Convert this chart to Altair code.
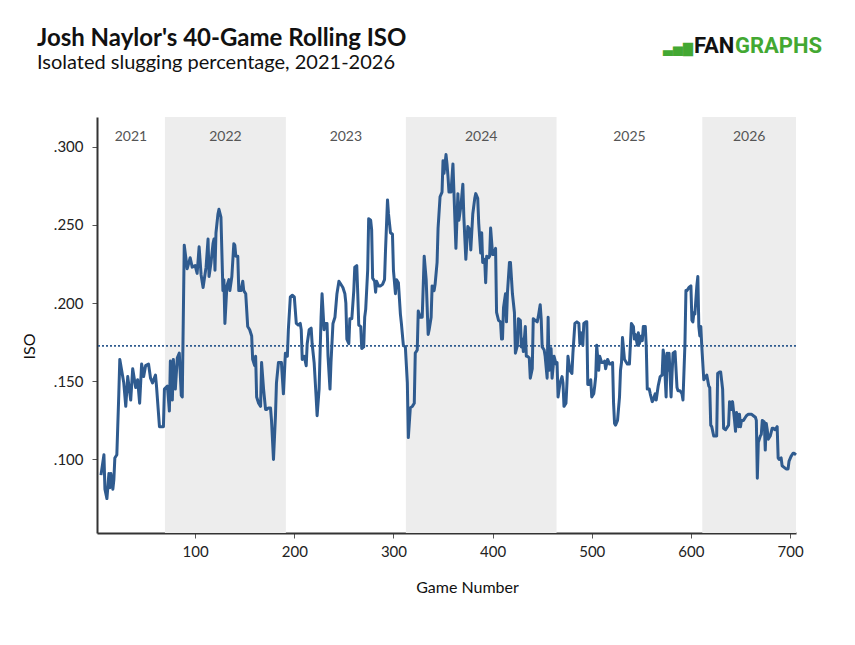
import altair as alt
import pandas as pd

# 40-game rolling ISO
games = [
    5, 8, 9, 11, 13, 14, 15, 17, 18, 19, 21, 23, 24, 28, 30, 32, 35, 37, 40, 42,
    44, 46, 48, 50, 53, 55, 57, 60, 61, 64, 68, 69, 72, 74, 75, 77, 78, 80, 82, 84,
    86, 87, 89, 92, 95, 97, 100, 102, 104, 106, 108, 111, 113, 114, 116, 118, 119, 120, 121, 123,
    124, 126, 128, 129, 130, 132, 134, 135, 137, 139, 140, 141, 143, 144, 146, 148, 149, 151, 153, 155,
    157, 158, 160, 161, 162, 164, 166, 167, 169, 171, 172, 174, 176, 177, 179, 181, 182, 184, 187, 189,
    191, 193, 194, 196, 198, 200, 202, 204, 206, 207, 208, 210, 212, 213, 215, 217, 218, 220, 222, 223,
    225, 227, 228, 230, 231, 233, 234, 236, 237, 239, 241, 243, 245, 246, 249, 251, 252, 253, 255, 256,
    258, 260, 261, 263, 264, 265, 267, 268, 270, 271, 272, 274, 275, 277, 278, 279, 281, 282, 283, 285,
    287, 289, 291, 292, 294, 295, 297, 299, 300, 302, 303, 305, 307, 308, 310, 312, 314, 315, 317, 319,
    321, 322, 324, 325, 327, 329, 331, 333, 335, 336, 338, 339, 341, 342, 344, 345, 347, 349, 350, 351,
    353, 354, 355, 356, 358, 360, 361, 363, 365, 366, 368, 370, 371, 373, 375, 377, 378, 380, 382, 383,
    385, 386, 388, 389, 390, 392, 393, 394, 396, 397, 398, 400, 401, 403, 404, 406, 408, 409, 410, 411,
    413, 414, 415, 417, 418, 420, 422, 423, 425, 426, 428, 429, 430, 431, 433, 434, 435, 437, 438, 440,
    441, 443, 445, 446, 448, 449, 450, 452, 453, 455, 456, 457, 459, 460, 462, 464, 465, 466, 468, 470,
    471, 472, 474, 475, 476, 478, 480, 481, 483, 485, 487, 488, 489, 491, 492, 494, 495, 496, 498, 499,
    500, 502, 503, 504, 505, 507, 508, 510, 512, 513, 514, 516, 518, 519, 521, 522, 523, 524, 526, 528,
    529, 530, 531, 533, 534, 536, 538, 539, 540, 542, 543, 544, 546, 547, 548, 550, 551, 552, 554, 555,
    556, 558, 559, 561, 562, 564, 565, 567, 569, 571, 572, 573, 575, 576, 577, 578, 580, 581, 582, 584,
    586, 587, 589, 591, 592, 594, 595, 596, 598, 600, 601, 602, 603, 604, 606, 607, 608, 609, 610, 611,
    613, 614, 616, 618, 619, 620, 621, 623, 624, 626, 627, 629, 630, 632, 633, 635, 636, 638, 639, 640,
    641, 642, 644, 645, 646, 648, 649, 650, 651, 653, 655, 656, 658, 660, 661, 663, 665, 666, 667, 668,
    670, 671, 672, 674, 675, 676, 677, 678, 680, 682, 683, 685, 687, 688, 689, 691, 692, 694, 696, 698,
    699, 701, 703, 704, 706,
]
iso = [
    .090, .103, .081, .075, .091, .082, .091, .081, .087, .101, .103, .142, .164, .149, .134, .153, .138, .158, .146, .151,
    .136, .161, .153, .160, .161, .152, .149, .154, .147, .121, .121, .145, .147, .131, .163, .138, .164, .145, .165, .168,
    .141, .140, .237, .222, .229, .223, .224, .219, .236, .218, .210, .223, .241, .217, .226, .238, .241, .221, .245, .257,
    .260, .255, .208, .215, .187, .211, .215, .208, .217, .238, .237, .230, .230, .208, .208, .214, .208, .206, .185, .183,
    .179, .164, .160, .166, .140, .136, .134, .162, .145, .132, .132, .133, .133, .125, .100, .128, .149, .162, .162, .142,
    .168, .166, .183, .204, .205, .204, .187, .186, .187, .183, .164, .166, .160, .174, .183, .184, .174, .162, .140, .128,
    .145, .191, .206, .183, .187, .187, .166, .145, .162, .187, .191, .206, .214, .213, .210, .206, .200, .177, .174, .190,
    .190, .208, .223, .224, .206, .186, .185, .171, .172, .191, .196, .221, .254, .253, .247, .216, .214, .207, .214, .211,
    .211, .212, .215, .234, .266, .257, .245, .244, .221, .206, .215, .213, .193, .187, .173, .172, .149, .114, .133, .134,
    .136, .168, .170, .195, .191, .191, .230, .215, .180, .183, .191, .211, .208, .212, .226, .248, .268, .271, .291, .283,
    .295, .289, .281, .271, .271, .289, .271, .235, .270, .253, .262, .276, .255, .228, .249, .247, .234, .257, .267, .270,
    .267, .251, .232, .245, .226, .228, .213, .230, .229, .230, .248, .231, .231, .235, .194, .189, .188, .177, .177, .197,
    .206, .188, .207, .226, .226, .206, .194, .168, .173, .190, .189, .172, .177, .169, .185, .166, .166, .165, .152, .158,
    .190, .189, .188, .191, .199, .190, .172, .170, .166, .152, .191, .157, .171, .152, .166, .161, .162, .140, .149, .153,
    .149, .134, .136, .149, .166, .157, .155, .168, .187, .188, .187, .174, .181, .173, .187, .188, .188, .148, .148, .151,
    .140, .142, .147, .153, .173, .157, .166, .162, .162, .163, .158, .164, .161, .161, .162, .136, .123, .122, .125, .140,
    .157, .162, .178, .164, .163, .161, .161, .174, .187, .185, .177, .180, .173, .181, .174, .179, .176, .185, .185, .172,
    .145, .145, .142, .137, .138, .142, .138, .147, .153, .154, .170, .166, .140, .168, .157, .168, .140, .155, .168, .169,
    .146, .144, .144, .142, .138, .174, .208, .208, .210, .211, .189, .188, .194, .193, .211, .217, .185, .179, .185, .172,
    .151, .152, .154, .147, .146, .122, .121, .115, .115, .115, .155, .156, .156, .145, .120, .119, .120, .122, .137, .136,
    .132, .137, .125, .118, .130, .121, .129, .121, .125, .125, .127, .128, .129, .129, .129, .128, .127, .125, .088, .111,
    .115, .116, .125, .124, .106, .123, .119, .113, .115, .120, .120, .119, .121, .101, .100, .101, .096, .095, .094, .094,
    .099, .102, .104, .104, .103,
]

seasons = ["2021", "2022", "2023", "2024", "2025", "2026"]
season_start = [1, 69.5, 191.5, 312.5, 464.5, 611.5]
season_end = [69.5, 191.5, 312.5, 464.5, 611.5, 706]
season_shaded = [False, True, False, True, False, True]

avg_iso = [0.1727]
x_ticks = [100, 200, 300, 400, 500, 600, 700]
y_ticks = [0.100, 0.150, 0.200, 0.250, 0.300]

W, H = 699, 416
BLUE = "#2f5b8f"
GREEN = "#43a832"
FONT = "Lato"

line_df = pd.DataFrame({"game": games, "iso": iso})
line_df["i"] = range(len(line_df))
season_df = pd.DataFrame(
    {"season": seasons, "start": season_start, "end": season_end, "shaded": season_shaded}
)

x_scale = alt.Scale(domain=[1, 706], nice=False, zero=False)
y_scale = alt.Scale(domain=[0.053, 0.319], nice=False, zero=False)

# same axis objects in every layer so the merged axes survive
x_axis = alt.Axis(title="Game Number", values=x_ticks, titleX=370, titleY=46)
y_axis = alt.Axis(
    title="ISO",
    values=y_ticks,
    labelExpr="substring(format(datum.value, '.3f'), 1)",
    titleX=-60,
    titleY=229,
)

bands = (
    alt.Chart(season_df)
    .transform_filter("datum.shaded")
    .mark_rect(color="#ededed")
    .encode(
        x=alt.X("start:Q", scale=x_scale, axis=x_axis),
        x2="end:Q",
        y=alt.value(0),
        y2=alt.value(H),
    )
)

season_labels = (
    alt.Chart(season_df)
    .transform_calculate(mid="(datum.start + datum.end) / 2")
    .mark_text(font=FONT, fontSize=14, color="#555555", baseline="middle")
    .encode(x=alt.X("mid:Q", scale=x_scale, axis=x_axis), y=alt.value(20), text="season:N")
)

avg_rule = (
    alt.Chart(pd.DataFrame({"avg": avg_iso}))
    .mark_rule(color=BLUE, strokeDash=[2, 2], strokeWidth=1.8)
    .encode(y=alt.Y("avg:Q", scale=y_scale, axis=y_axis))
)

line = (
    alt.Chart(line_df)
    .mark_line(color=BLUE, strokeWidth=3, strokeJoin="round")
    .encode(
        x=alt.X("game:Q", scale=x_scale, axis=x_axis),
        y=alt.Y("iso:Q", scale=y_scale, axis=y_axis),
        order="i:Q",
    )
)

logo_icon = alt.Chart().mark_text(
    text="▃▅▇", font="DejaVu Sans", fontSize=13, color=GREEN, align="right", baseline="alphabetic"
).encode(x=alt.value(596), y=alt.value(-64))
logo_fan = alt.Chart().mark_text(
    text="FAN", font="Roboto", fontWeight="bold", fontSize=22, color="#111111",
    align="left", baseline="alphabetic",
).encode(x=alt.value(597), y=alt.value(-64))
logo_graphs = alt.Chart().mark_text(
    text="GRAPHS", font="Roboto", fontWeight="bold", fontSize=22, color=GREEN,
    align="left", baseline="alphabetic",
).encode(x=alt.value(638), y=alt.value(-64))

chart = (
    alt.layer(bands, season_labels, avg_rule, line, logo_icon, logo_fan, logo_graphs)
    .properties(
        width=W,
        height=H,
        autosize=alt.AutoSizeParams(type="none"),
        padding={"left": 89, "top": 109, "right": 51, "bottom": 104},
        title=alt.Title(
            "Josh Naylor's 40-Game Rolling ISO",
            subtitle="Isolated slugging percentage, 2021-2026",
            anchor="start",
            frame="group",
            dx=-60,
            dy=38,
            offset=0,
            font=FONT,
            fontSize=24,
            fontWeight="bold",
            color="#111111",
            subtitleFont=FONT,
            subtitleFontSize=20,
            subtitleColor="#111111",
            subtitlePadding=2,
        ),
    )
    .configure_view(strokeWidth=0)
    .configure_axis(
        labelFont=FONT,
        labelFontSize=15,
        labelColor="#222222",
        titleFont=FONT,
        titleFontSize=16,
        titleFontWeight="normal",
        titleColor="#111111",
        domainColor="#333333",
        domainWidth=2,
        tickColor="#555555",
        tickSize=5,
        grid=False,
    )
    .configure_axisX(labelPadding=6)
    .configure_axisY(labelPadding=9)
)

chart.save("out.html", embed_options={"renderer": "svg", "actions": False})
